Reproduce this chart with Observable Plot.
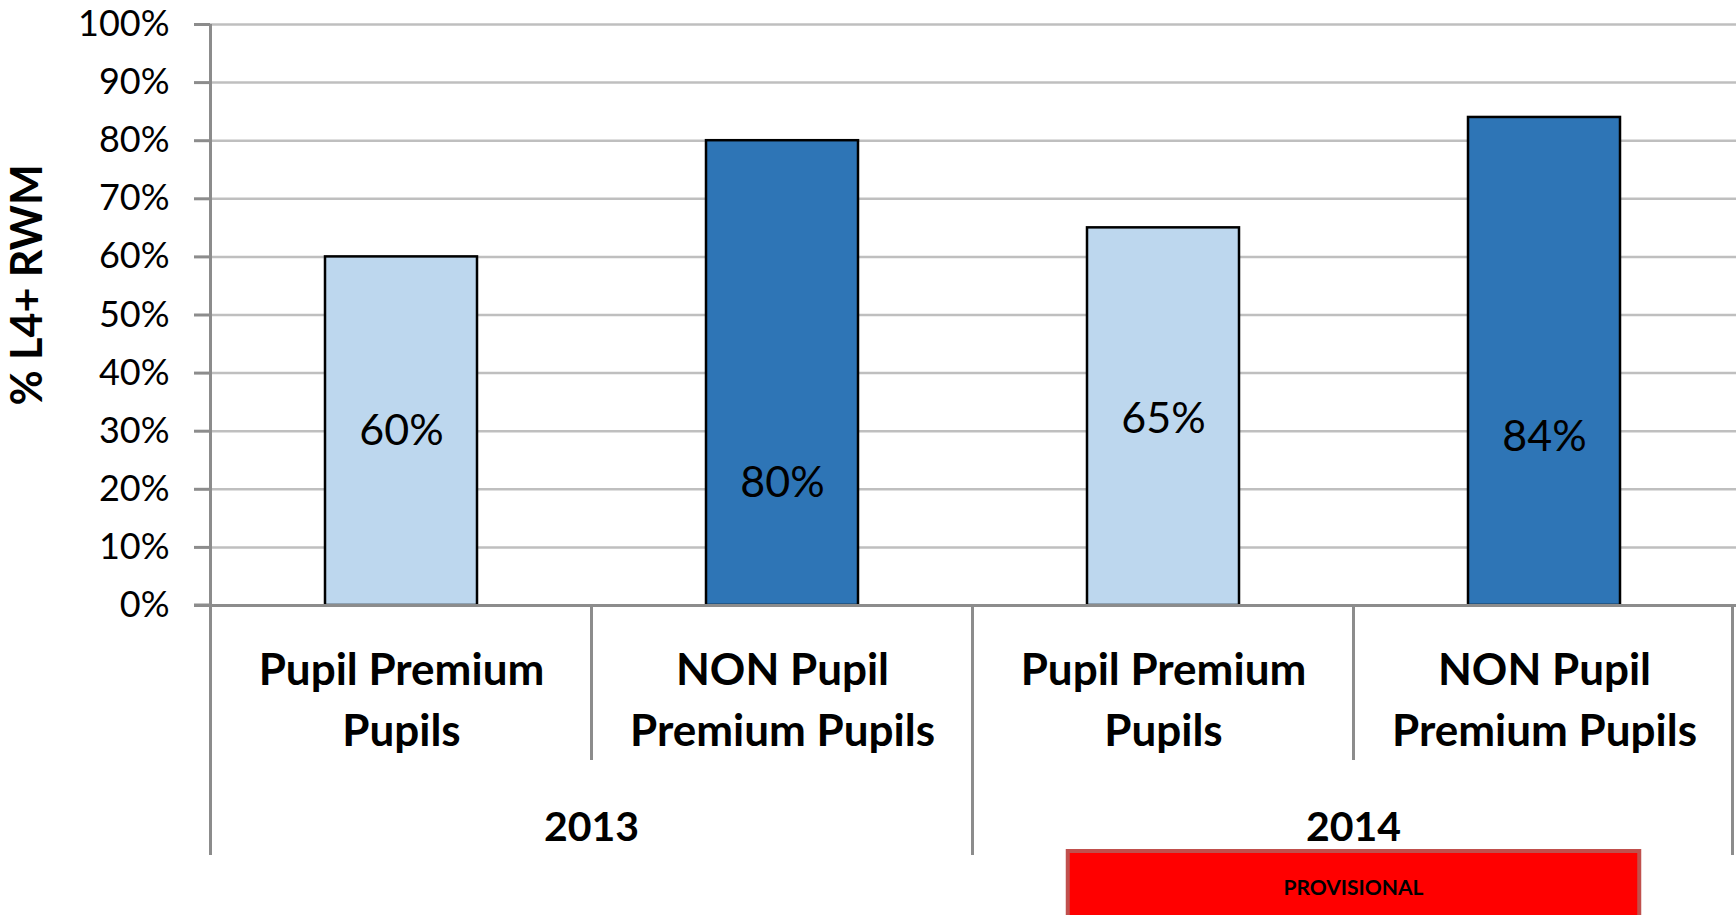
<!DOCTYPE html>
<html><head><meta charset="utf-8">
<script src="https://cdn.jsdelivr.net/npm/d3@7"></script>
<script src="https://cdn.jsdelivr.net/npm/@observablehq/plot@0.6"></script>
<style>html,body{margin:0;padding:0;background:#fff;} svg{display:block}</style>
</head><body><div id="chart"></div>
<script>
// ---- data ----
const categoryLabels = ["Pupil Premium\nPupils", "NON Pupil\nPremium Pupils", "Pupil Premium\nPupils", "NON Pupil\nPremium Pupils"];
const years = ["2013", "2013", "2014", "2014"];
const values = [60, 80, 65, 84];
const valueLabelAt = [30, 21, 32, 29];
const shades = ["light", "dark", "light", "dark"];
const yTicks = [0, 10, 20, 30, 40, 50, 60, 70, 80, 90, 100];
const yearGroups = ["2013", "2014"];
const yTitle = "% L4+ RWM";
const noteText = "PROVISIONAL";
const noteYear = "2014";

// ---- build ----
const keys = categoryLabels.map((c, i) => years[i] + "|" + i);
const data = keys.map((k, i) => ({key: k, label: categoryLabels[i], year: years[i], value: values[i], labelAt: valueLabelAt[i], shade: shades[i]}));

const W = 1736, H = 915, mL = 210, mR = 0, mT = 24, mB = 310;
const FONT = "Lato, 'Open Sans', sans-serif";

const plot = Plot.plot({
  width: W, height: H,
  marginLeft: mL, marginRight: mR, marginTop: mT, marginBottom: mB,
  style: {fontFamily: FONT, background: "white", color: "black", overflow: "visible"},
  x: {domain: keys, paddingInner: 0.6, paddingOuter: 0.3, axis: null},
  y: {domain: [0, 100]},
  color: {domain: ["light", "dark"], range: ["#BDD7EE", "#2E75B6"]},
  marks: [
    Plot.ruleY(yTicks.filter(d => d > 0), {stroke: "#BFBFBF", strokeWidth: 2.5}),
    Plot.axisY({ticks: yTicks, tickFormat: d => d + "%", tickSize: 16, tickPadding: 25, fontSize: 36,
                stroke: "#8C8C8C", strokeWidth: 3, fill: "black", label: null}),
    Plot.barY(data, {x: "key", y: "value", fill: "shade", stroke: "black", strokeWidth: 2.5}),
    Plot.ruleY([0], {stroke: "#8C8C8C", strokeWidth: 3}),
    Plot.text(data, {x: "key", y: "labelAt", text: d => d.value + "%", fontSize: 43, fill: "black"}),
    Plot.text([yTitle], {frameAnchor: "left", textAnchor: "middle", rotate: -90, dx: -182, dy: -30, fontSize: 43, fontWeight: "bold", fill: "black"}),
    Plot.text(data, {x: "key", text: "label", frameAnchor: "bottom", lineAnchor: "middle", dy: 90, lineHeight: 1.39, fontSize: 44, fontWeight: "bold", fill: "black"})
  ]
});

// ---- lower category hierarchy, drawn with the plot's own x scale ----
const xs = plot.scale("x");
const step = xs.step;
const center = k => xs.apply(k) + xs.bandwidth / 2;
const y0 = H - mB;
const svg = d3.select(plot);
const g = svg.append("g").attr("stroke", "#8C8C8C").attr("stroke-width", 3);
keys.forEach((k, i) => {
  const left = center(k) - step / 2;
  const isYearStart = i === 0 || years[i] !== years[i - 1];
  g.append("line").attr("x1", left).attr("x2", left)
    .attr("y1", i === 0 ? mT : y0)
    .attr("y2", isYearStart ? y0 + 250 : y0 + 155);
});
const lastRight = center(keys[keys.length - 1]) + step / 2 - 2;
g.append("line").attr("x1", lastRight).attr("x2", lastRight).attr("y1", y0).attr("y2", y0 + 250);
g.append("line").attr("x1", mL - 16).attr("x2", mL).attr("y1", y0).attr("y2", y0);

const yearCenter = yr => d3.mean(keys.filter((k, i) => years[i] === yr), center);
svg.append("g").selectAll("text").data(yearGroups).join("text")
  .attr("x", yearCenter).attr("y", y0 + 220)
  .attr("text-anchor", "middle").attr("dominant-baseline", "central")
  .attr("font-family", FONT).attr("font-size", 41).attr("font-weight", "bold").attr("fill", "black")
  .text(d => d);

const nc = yearCenter(noteYear);
const note = svg.append("g");
note.append("rect").attr("x", nc - 0.75 * step).attr("y", y0 + 246).attr("width", 1.5 * step).attr("height", 80)
  .attr("fill", "#FF0000").attr("stroke", "#C0504D").attr("stroke-width", 4);
note.append("text").attr("x", nc).attr("y", y0 + 281).attr("text-anchor", "middle").attr("dominant-baseline", "central")
  .attr("font-family", FONT).attr("font-size", 21).attr("font-weight", "bold").attr("fill", "black").text(noteText);

document.getElementById("chart").appendChild(plot);
</script>
</body></html>
